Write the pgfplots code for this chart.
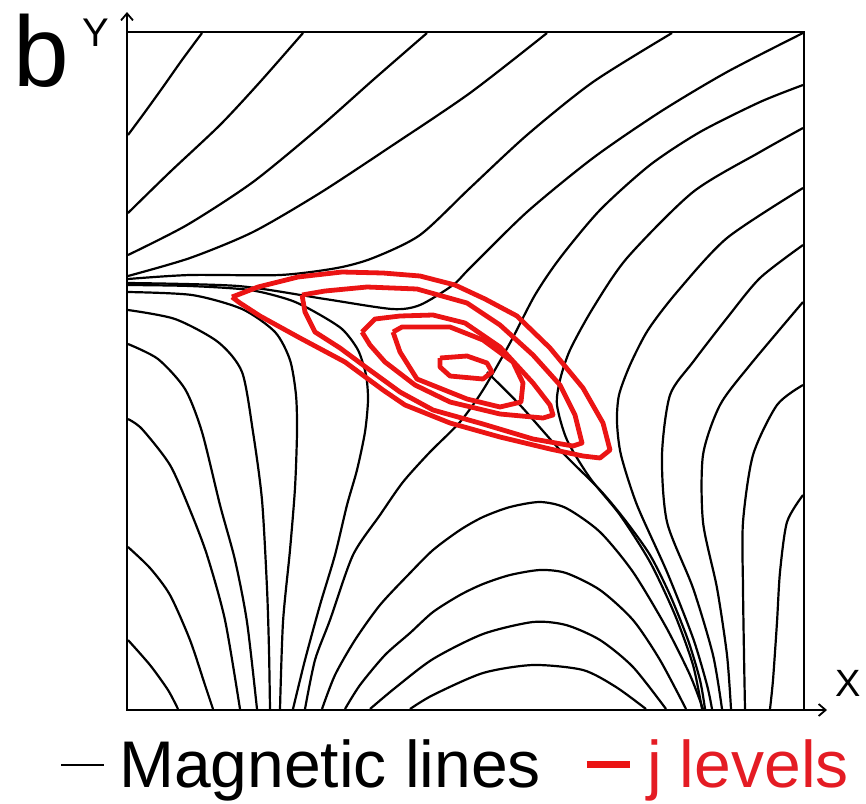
\documentclass[border=0pt]{standalone}
\usepackage{pgfplots}
\pgfplotsset{compat=1.18}
\usepackage{fontspec}
\setmainfont{Liberation Sans}
\usetikzlibrary{arrows.meta}
\definecolor{jred}{RGB}{235,20,20}
\definecolor{jtext}{RGB}{228,28,36}
\tikzset{mline/.style={black, line width=1.1pt, smooth, tension=0.45},
         jline/.style={jred, line width=2.4pt, line join=round}}
\begin{document}
\begin{tikzpicture}
\begin{axis}[
  scale only axis, width=338.5pt, height=339pt,
  xmin=127, xmax=804, ymin=32, ymax=710, y dir=reverse,
  xtick=\empty, ytick=\empty,
  axis line style={line width=0.9pt, black},
  clip=false,
  legend columns=2,
  legend cell align=left,
  legend style={at={(-0.0990,-0.0810)}, anchor=west, draw=none, fill=none,
    inner sep=0pt, outer sep=0pt, font=\fontsize{33}{38}\selectfont,
    nodes={inner sep=0pt, outer sep=0pt},
    /tikz/every odd column/.style={column sep=7pt},
    /tikz/every even column/.style={column sep=21pt}},
  legend image code/.code={\draw[#1] (0pt,0pt) -- (21.5pt,0pt);},
]
% bounding frame of the whole picture (pixel coordinates)
\path (axis cs:0,0) rectangle (axis cs:866,803);
% ---------------- magnetic lines ----------------
\addplot[mline] coordinates {(128,135) (145,112) (163,87) (182,60) (202,33)};
\addlegendentry{Magnetic lines}
\addplot[mline, forget plot] coordinates {(128,213) (170,172) (220,125) (260,82) (303,33)};
\addplot[mline, forget plot] coordinates {(128,255) (187,225) (253,182) (320,127) (373,80) (427,33)};
\addplot[mline, forget plot] coordinates {(128,276) (190,258) (253,232) (320,193) (390,147) (470,93) (547,33)};
\addplot[mline, forget plot] coordinates {(128,279) (190,275) (280,275) (337,268) (373,258) (420,235) (470,188) (527,135) (593,82) (672,33)};
\addplot[mline, forget plot] coordinates {(128,283) (238,286) (325,299) (392,309) (420,305) (453,285) (470,268) (527,212) (593,158) (660,112) (727,72) (803,33)};
\addplot[mline, forget plot] coordinates {(128,285) (190,286) (250,290) (290,300) (315,312) (342,329) (358,350) (366,375) (368,400) (365,432) (357,470) (347,505) (335,555) (320,605) (305,660) (293,709)};
\addplot[mline, forget plot] coordinates {(128,292) (192,295) (242,309) (275,332) (290,360) (296,395) (297,432) (295,488) (290,550) (283,622) (280,709)};
\addplot[mline, forget plot] coordinates {(128,310) (175,319) (218,342) (242,372) (253,432) (262,500) (267,588) (269,650) (270,709)};
\addplot[mline, forget plot] coordinates {(128,344) (158,359) (185,389) (202,432) (220,505) (235,560) (247,622) (257,709)};
\addplot[mline, forget plot] coordinates {(128,419) (142,429) (170,465) (190,510) (207,555) (225,620) (240,709)};
\addplot[mline, forget plot] coordinates {(128,547) (150,568) (170,595) (190,640) (205,685) (213,709)};
\addplot[mline, forget plot] coordinates {(128,640) (150,665) (168,690) (178,709)};
% line rising from the bottom through the current sheet
\addplot[mline, forget plot] coordinates {(305,709) (315,660) (330,620) (353,555) (380,515) (403,482) (430,452) (460,422) (483,390) (510,343) (535,295) (560,258) (600,210) (650,165) (700,132) (760,102) (803,85)};
% separatrix and lines bundled near it
\addplot[mline, forget plot] coordinates {(487,372) (520,405) (560,450) (600,490) (625,520) (650,555) (670,595) (688,640) (700,680) (705,709)};
\addplot[mline, forget plot] coordinates {(803,128) (760,152) (693,192) (627,258) (593,308) (570,350) (560,380) (557,405) (567,440) (590,478) (620,515) (650,562) (675,615) (693,665) (702,709)};
\addplot[mline, forget plot] coordinates {(803,188) (727,238) (677,292) (648,330) (630,365) (619,395) (617,422) (621,455) (637,505) (667,572) (693,638) (707,685) (712,709)};
\addplot[mline, forget plot] coordinates {(803,245) (760,278) (727,318) (693,362) (670,395) (662,455) (667,522) (693,588) (713,655) (722,709)};
\addplot[mline, forget plot] coordinates {(803,302) (750,365) (720,405) (703,455) (703,522) (717,588) (727,655) (731,709)};
\addplot[mline, forget plot] coordinates {(803,385) (777,405) (753,455) (743,522) (743,588) (744,655) (745,709)};
\addplot[mline, forget plot] coordinates {(803,495) (787,522) (780,572) (777,622) (773,680) (770,709)};
% domes in the lower part
\addplot[mline, forget plot] coordinates {(322,709) (335,675) (355,640) (380,605) (410,573) (433,550) (460,530) (483,517) (510,507) (540,502) (566,508) (600,532) (633,572) (666,627) (690,675) (703,709)};
\addplot[mline, forget plot] coordinates {(345,709) (360,685) (385,655) (410,633) (433,612) (460,595) (483,584) (510,575) (540,570) (566,573) (600,590) (633,620) (660,660) (686,709)};
\addplot[mline, forget plot] coordinates {(370,709) (395,688) (433,659) (483,634) (533,622) (566,625) (600,640) (633,667) (666,709)};
\addplot[mline, forget plot] coordinates {(410,709) (433,695) (483,673) (533,665) (583,670) (616,687) (646,709)};
% ---------------- j levels ----------------
\addplot[jline, legend image code/.code={\draw[jred, line width=3.5pt] (0pt,0pt) -- (21.5pt,0pt);}] coordinates {(232,297) (258,287) (298,277) (342,272) (383,273) (420,276) (455,285) (485,299) (517,316) (550,348) (583,388) (603,423) (610,450) (600,458) (583,456) (550,449) (500,437) (450,423) (405,405) (383,390) (345,362) (300,338) (260,316) (240,303) (232,297)};
\addlegendentry[text=jtext]{j levels}
\addplot[jline, forget plot] coordinates {(302,295) (325,291) (367,287) (417,289) (467,303) (500,325) (533,355) (560,385) (575,415) (582,443) (573,446) (533,439) (483,424) (433,410) (400,392) (367,368) (340,348) (315,332) (305,312) (302,295)};
\addplot[jline, forget plot] coordinates {(362,332) (375,319) (400,316) (433,315) (465,323) (500,347) (533,383) (550,405) (553,415) (543,418) (500,414) (450,402) (415,385) (385,362) (370,345) (362,332)};
\addplot[jline, forget plot] coordinates {(393,332) (402,327) (450,327) (483,340) (513,362) (523,383) (521,402) (500,407) (467,399) (417,379) (400,352) (393,332)};
\addplot[jline, forget plot] coordinates {(440,358) (467,356) (487,363) (492,372) (483,379) (450,376) (440,367) (440,358)};
% ---------------- axis arrows and labels ----------------
\draw[line width=0.9pt, -{Straight Barb[length=3.5pt,width=6pt]}] (axis cs:804,710) -- (axis cs:827,710);
\draw[line width=0.9pt, -{Straight Barb[length=3.5pt,width=6pt]}] (axis cs:127,32) -- (axis cs:127,12);
\node[font=\fontsize{50}{56}\selectfont, inner sep=0pt] at (axis cs:41,51) {b};
\node[font=\fontsize{20}{24}\selectfont, inner sep=0pt] at (axis cs:96,33) {Y};
\node[font=\fontsize{19}{23}\selectfont, inner sep=0pt] at (axis cs:848,683) {X};
\end{axis}
\end{tikzpicture}
\end{document}
